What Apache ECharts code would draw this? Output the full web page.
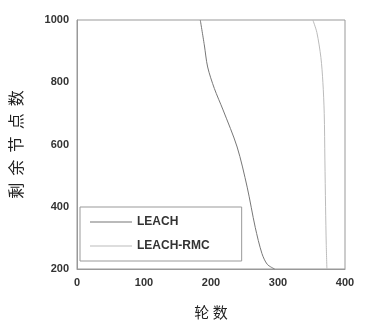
<!DOCTYPE html>
<html>
<head>
<meta charset="utf-8">
<script src="https://cdn.jsdelivr.net/npm/echarts@6/dist/echarts.min.js"></script>
<style>
  html, body { margin: 0; padding: 0; background: #fff; }
  #main { width: 365px; height: 321px; }
</style>
</head>
<body>
<div id="main"></div>
<script>
const chart = echarts.init(document.getElementById('main'))

const xTicks = [0, 100, 200, 300, 400]
const yTicks = [200, 400, 600, 800, 1000]

const leachRounds = [184, 190, 195, 205, 218, 239, 254, 266, 276, 284, 295]
const leachNodes  = [1000, 920, 849, 780, 711, 592, 463, 334, 250, 215, 200]

const rmcRounds = [352, 358, 364, 367, 369, 370, 371, 372, 373]
const rmcNodes  = [1000, 960, 880, 800, 700, 550, 400, 280, 200]

const pairs = (xs, ys) => xs.map((x, i) => [x, ys[i]])

let axisLabel = {
  color: '#333',
  fontFamily: 'Liberation Sans',
  fontWeight: 'bold',
  fontSize: 11,
  formatter: v => String(v)
}

let option = {
  backgroundColor: '#fff',
  animation: false,
  grid: {
    left: 77,
    right: 20,
    top: 20,
    bottom: 52,
    outerBoundsMode: 'none',
    containLabel: false,
    show: true,
    borderColor: '#999',
    borderWidth: 1
  },
  legend: {
    orient: 'vertical',
    left: 80,
    top: 207,
    itemWidth: 42,
    itemHeight: 10,
    itemGap: 12,
    padding: [9, 32, 9, 10],
    borderColor: '#999',
    borderWidth: 1,
    icon: 'path://M0,5 L42,5 L42,6 L0,6 Z',
    textStyle: {
      color: '#333',
      fontFamily: 'Liberation Sans',
      fontWeight: 'bold',
      fontSize: 12
    },
    data: ['LEACH', 'LEACH-RMC']
  },
  xAxis: {
    type: 'value',
    min: 0,
    max: 400,
    interval: 100,
    name: '轮 数',
    nameLocation: 'middle',
    nameGap: 36,
    nameTextStyle: {
      color: '#222',
      fontFamily: 'Noto Sans CJK SC',
      fontSize: 15
    },
    axisLine: { lineStyle: { color: '#999' } },
    axisTick: { show: false },
    splitLine: { show: false },
    axisLabel: axisLabel
  },
  yAxis: {
    type: 'value',
    min: 200,
    max: 1000,
    interval: 200,
    name: '剩  余  节  点  数',
    nameLocation: 'middle',
    nameGap: 53,
    nameRotate: 90,
    nameTextStyle: {
      color: '#222',
      fontFamily: 'Noto Sans CJK SC',
      fontSize: 16
    },
    axisLine: { show: true, lineStyle: { color: '#999' } },
    axisTick: { show: false },
    splitLine: { show: false },
    axisLabel: axisLabel
  },
  series: [
    {
      name: 'LEACH',
      type: 'line',
      smooth: 0.3,
      symbol: 'none',
      data: pairs(leachRounds, leachNodes),
      lineStyle: { color: '#777', width: 1 },
      itemStyle: { color: '#777' }
    },
    {
      name: 'LEACH-RMC',
      type: 'line',
      smooth: 0.3,
      symbol: 'none',
      data: pairs(rmcRounds, rmcNodes),
      lineStyle: { color: '#bbb', width: 1 },
      itemStyle: { color: '#bbb' }
    }
  ]
}
chart.setOption(option)
</script>
</body>
</html>
